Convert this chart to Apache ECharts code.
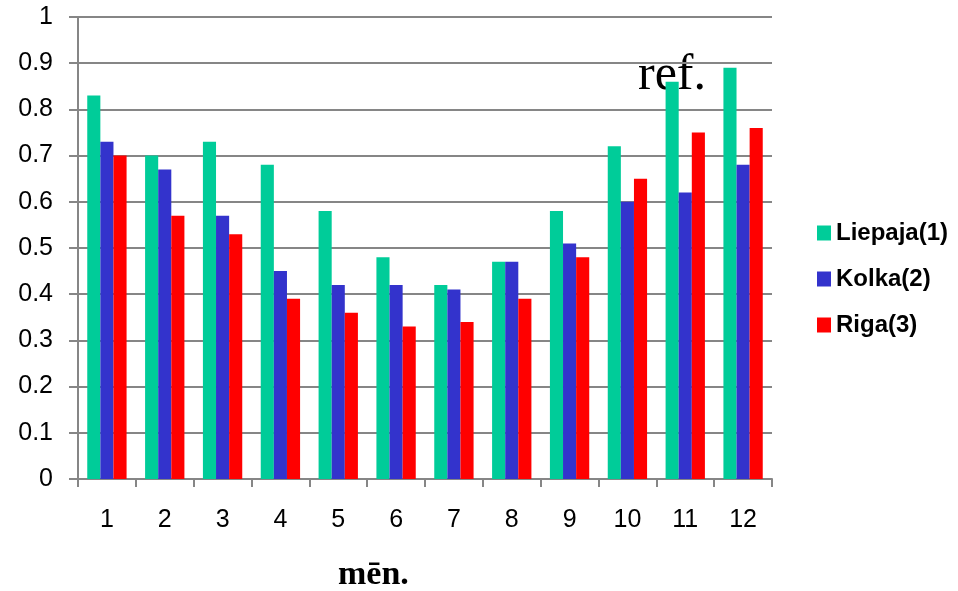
<!DOCTYPE html>
<html><head><meta charset="utf-8">
<script src="https://cdn.jsdelivr.net/npm/echarts@6/dist/echarts.min.js"></script>
<style>html,body{margin:0;padding:0;background:#fff}#c{width:958px;height:591px}</style>
</head><body><div id="c"></div>
<script>
const categories = ['1','2','3','4','5','6','7','8','9','10','11','12'];
const liepaja = [0.83,0.70,0.73,0.68,0.58,0.48,0.42,0.47,0.58,0.72,0.86,0.89];
const kolka   = [0.73,0.67,0.57,0.45,0.42,0.42,0.41,0.47,0.51,0.60,0.62,0.68];
const riga    = [0.70,0.57,0.53,0.39,0.36,0.33,0.34,0.39,0.48,0.65,0.75,0.76];
const yTicks = [0,0.1,0.2,0.3,0.4,0.5,0.6,0.7,0.8,0.9,1];

const gray = '#868686';
const chart = echarts.init(document.getElementById('c'));
chart.setOption({
  animation:false,
  backgroundColor:'#fff',
  grid:{left:78,right:186,top:17,bottom:112},
  legend:{
    orient:'vertical', left:812, top:216, itemWidth:14, itemHeight:15, itemGap:22,
    icon:'rect',
    textStyle:{fontFamily:'Liberation Sans, Arial',fontSize:24,fontWeight:'bold',color:'#000',lineHeight:24},
    data:['Liepaja(1)','Kolka(2)','Riga(3)']
  },
  xAxis:{
    type:'category', data:categories,
    axisLine:{lineStyle:{color:gray,width:2}},
    axisTick:{show:true,length:8,alignWithLabel:false,lineStyle:{color:gray,width:2}},
    axisLabel:{margin:29,fontFamily:'Liberation Sans, Arial',fontSize:25,color:'#000'}
  },
  yAxis:{
    type:'value', min:0, max:1, interval:0.1,
    axisLine:{show:true,lineStyle:{color:gray,width:2}},
    axisTick:{show:true,length:9,lineStyle:{color:gray,width:2}},
    splitLine:{lineStyle:{color:gray,width:2}},
    axisLabel:{margin:25,fontFamily:'Liberation Sans, Arial',fontSize:25,color:'#000',
      formatter:v=>{const t=yTicks.find(x=>Math.abs(x-v)<1e-9);return t===undefined?'':String(t);}}
  },
  series:[
    {name:'Liepaja(1)',type:'bar',data:liepaja,itemStyle:{color:'#00CC99'},barGap:'0%',barCategoryGap:'32%'},
    {name:'Kolka(2)',type:'bar',data:kolka,itemStyle:{color:'#3333CC'},barGap:'0%',barCategoryGap:'32%'},
    {name:'Riga(3)',type:'bar',data:riga,itemStyle:{color:'#FF0000'},barGap:'0%',barCategoryGap:'32%'}
  ],
  graphic:[
    {type:'text',left:338,top:558,style:{text:'mēn.',font:'bold 34px "Liberation Serif", "Times New Roman", serif',fill:'#000'}},
    {type:'text',left:638,top:51,style:{text:'ref.',font:'50px "Liberation Serif", "Times New Roman", serif',fill:'#000'}}
  ]
});
</script></body></html>
